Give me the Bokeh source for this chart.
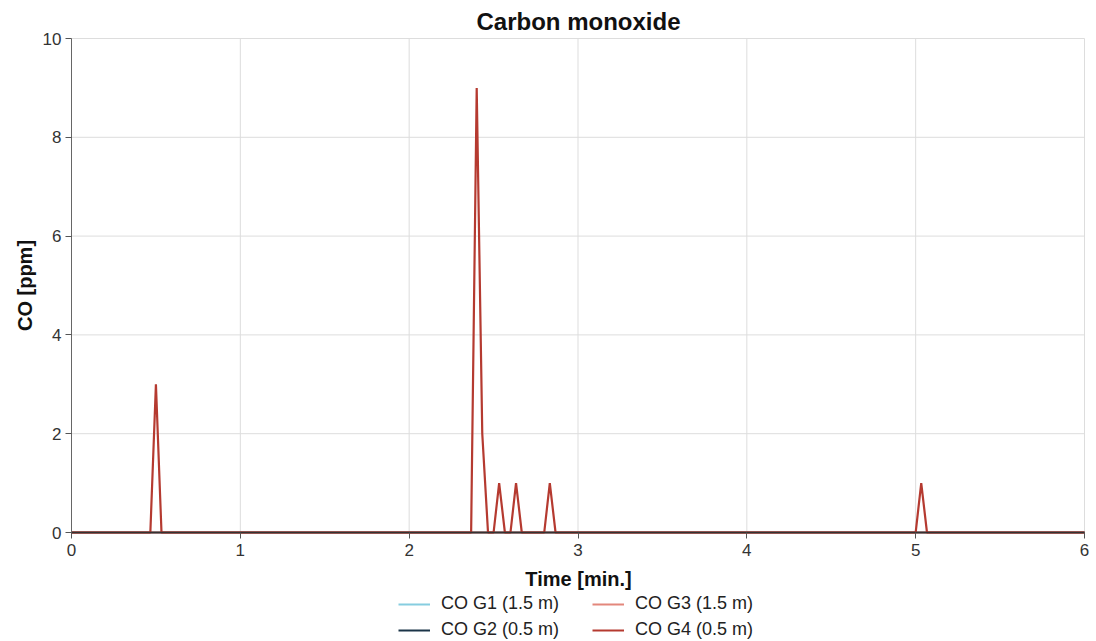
import math
from bokeh.plotting import figure
from bokeh.models import Legend, LegendItem, Range1d, FixedTicker, Label
from bokeh.embed import file_html
from bokeh.resources import INLINE

# Data (time in minutes, CO in ppm)
t_base = [0.0, 6.0]
g1_vals = [0.0, 0.0]
g2_vals = [0.0, 0.0]
g3_vals = [0.0, 0.0]

g4_time = [0.0, 0.467, 0.5, 0.533, 2.367, 2.4, 2.433, 2.467, 2.5, 2.533, 2.567,
           2.6, 2.633, 2.667, 2.8, 2.833, 2.867, 5.0, 5.033, 5.067, 6.0]
g4_vals = [0, 0, 3, 0, 0, 9, 2, 0, 0, 1, 0,
           0, 1, 0, 0, 1, 0, 0, 1, 0, 0]

series_names = ["CO G1 (1.5 m)", "CO G2 (0.5 m)", "CO G3 (1.5 m)", "CO G4 (0.5 m)"]
colors = ["#86cde0", "#1b3448", "#e3877c", "#b53a30"]
x_ticks = [0, 1, 2, 3, 4, 5, 6]
y_ticks = [0, 2, 4, 6, 8, 10]
x_min, x_max = 0, 6
y_min, y_max = 0, 10
title_text = "Carbon monoxide"
x_title = "Time [min.]"
y_title = "CO [ppm]"

FONT = "Liberation Sans"

# plot area: x 0..6 -> px 71..1084, y 0..10 -> px 532..38; the frame covers the
# whole page so that tick labels, titles and legend fit inside it
W, H = 1096, 641
kx = (1084 - 71) / (x_max - x_min)
ky = (532 - 38) / (y_max - y_min)
x_range = Range1d(x_min - 71 / kx, x_max + (W - 1084) / kx)
y_range = Range1d(y_min - (H - 532) / ky, y_max + 38 / ky)

p = figure(width=W, height=H, output_backend="svg", toolbar_location=None,
           x_range=x_range, y_range=y_range,
           min_border_left=0, min_border_right=0, min_border_top=0, min_border_bottom=0)

p.outline_line_color = None
p.xgrid.visible = False
p.ygrid.visible = False
# grid lines limited to the data area
p.segment(x0=x_ticks, x1=x_ticks, y0=[y_min] * len(x_ticks), y1=[y_max] * len(x_ticks),
          line_color="#dddddd", line_width=1)
p.segment(x0=[x_min] * len(y_ticks), x1=[x_max] * len(y_ticks), y0=y_ticks, y1=y_ticks,
          line_color="#dddddd", line_width=1)

r1 = p.line(t_base, g1_vals, line_color=colors[0], line_width=2.2)
r2 = p.line(t_base, g2_vals, line_color=colors[1], line_width=2.2)
r3 = p.line(t_base, g3_vals, line_color=colors[2], line_width=2.2)
r4 = p.line(g4_time, g4_vals, line_color=colors[3], line_width=2.2)

p.xaxis.ticker = FixedTicker(ticks=x_ticks)
p.yaxis.ticker = FixedTicker(ticks=y_ticks)
p.xaxis.minor_tick_line_color = None
p.yaxis.minor_tick_line_color = None
p.xaxis.fixed_location = y_min
p.yaxis.fixed_location = x_min
p.xaxis.bounds = (x_min, x_max)
p.yaxis.bounds = (y_min, y_max)

for ax in (p.xaxis[0], p.yaxis[0]):
    ax.major_label_text_font = FONT
    ax.major_label_text_font_size = "17px"
    ax.major_label_text_color = "#333333"
    ax.major_tick_in = 0
    ax.major_tick_out = 6
    ax.major_tick_line_color = "#555555"
p.xaxis.axis_line_color = "#333333"
p.xaxis.axis_line_width = 1.5
p.yaxis.axis_line_color = "#666666"
p.xaxis.major_label_standoff = 5
p.yaxis.major_label_standoff = 4

# chart title and axis titles
p.add_layout(Label(x=578, y=H - 21, x_units="screen", y_units="screen",
                   text=title_text, text_font=FONT, text_font_size="24px",
                   text_font_style="bold", text_color="#111111",
                   text_align="center", text_baseline="middle"))
p.add_layout(Label(x=578, y=H - 578, x_units="screen", y_units="screen",
                   text=x_title, text_font=FONT, text_font_size="20px",
                   text_font_style="bold", text_color="#111111",
                   text_align="center", text_baseline="middle"))
p.add_layout(Label(x=24, y=H - 285, x_units="screen", y_units="screen",
                   text=y_title, angle=math.pi / 2, text_font=FONT, text_font_size="20px",
                   text_font_style="bold", text_color="#111111",
                   text_align="center", text_baseline="middle"))

legend = Legend(items=[LegendItem(label=series_names[0], renderers=[r1]),
                       LegendItem(label=series_names[1], renderers=[r2]),
                       LegendItem(label=series_names[2], renderers=[r3]),
                       LegendItem(label=series_names[3], renderers=[r4])],
                orientation="vertical", ncols=2, location=(398, 1),
                label_text_font=FONT, label_text_font_size="18px",
                label_text_color="#222222", border_line_color=None,
                background_fill_alpha=0, spacing=5, padding=2,
                glyph_width=32, label_height=20, glyph_height=20,
                label_width=146, label_standoff=11, margin=0)
p.add_layout(legend, "center")

open("out.html", "w").write(file_html(p, INLINE))
